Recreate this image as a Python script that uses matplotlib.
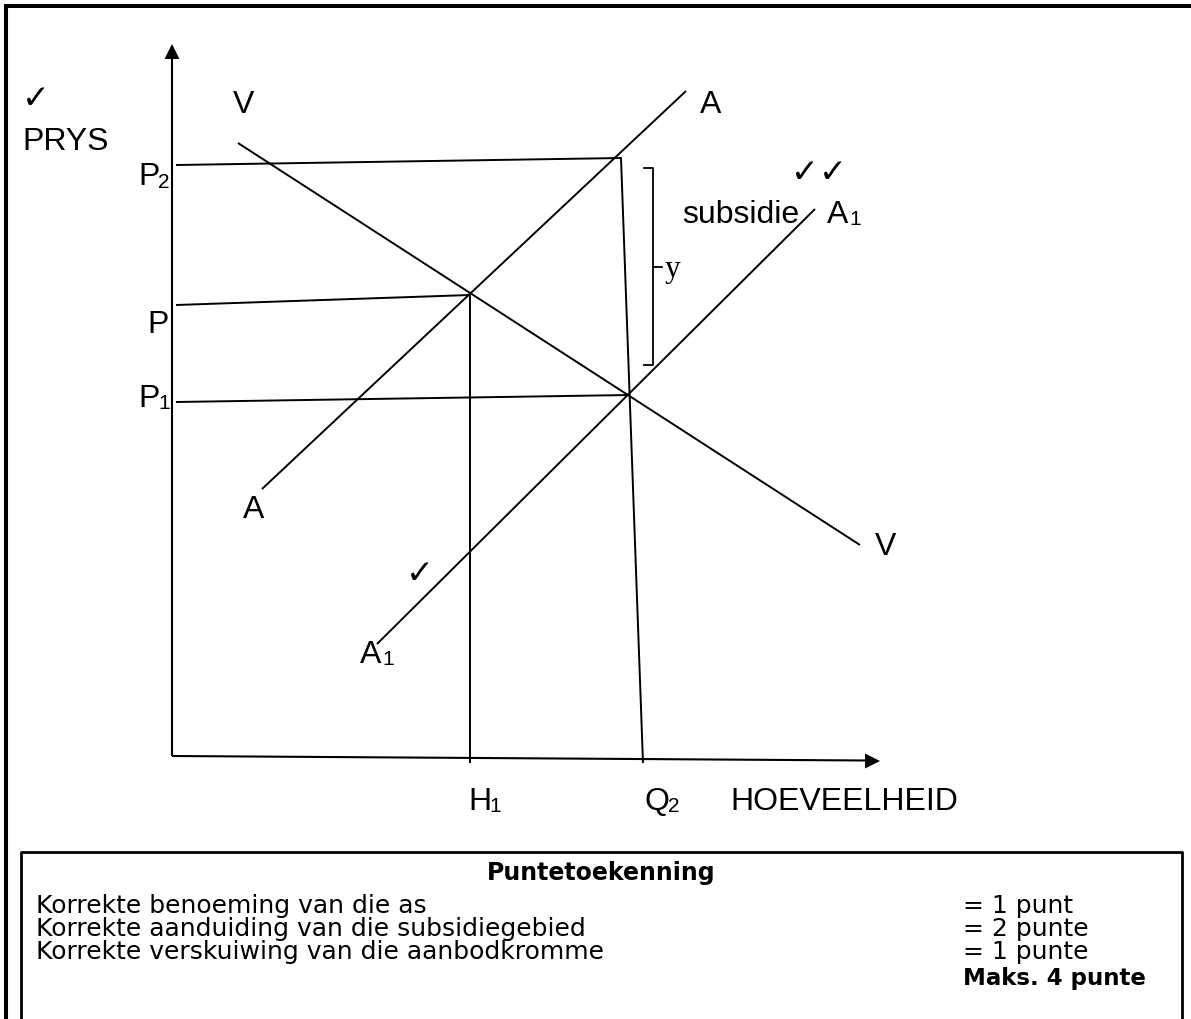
import matplotlib
matplotlib.use("Agg")
import matplotlib.pyplot as plt

# line segments of the diagram, in image pixels (x right, y down)
V_X, V_Y = [238, 860], [144, 546]          # demand V
A_X, A_Y = [262, 686], [490, 92]           # supply A
A1_X, A1_Y = [377, 815], [645, 210]        # supply A1 after subsidy
P2_X, P2_Y = [176, 622], [166, 159]
P_X, P_Y = [176, 470], [306, 296]
P1_X, P1_Y = [176, 630], [403, 396]
H1_X, H1_Y = [470, 470], [296, 764]
Q2_X, Q2_Y = [621, 643], [159, 764]
YAX_X, YAX_Y = [172, 172], [757, 58]
XAX_X, XAX_Y = [172, 867], [757, 761.5]
BRACKET_X = [644, 653, 653, 644]
BRACKET_Y = [169, 169, 366, 366]
BTICK_X, BTICK_Y = [653, 662], [267.5, 267.5]

# main labels: text, x (left), baseline y
LBL_TEXT = ["PRYS", "V", "A", "P", "P", "P", "subsidie", "A", "A", "V", "A", "H", "Q",
            "HOEVEELHEID"]
LBL_X = [22, 233, 700, 147, 138, 138, 682, 827, 243, 875, 360, 468, 645, 730]
LBL_Y = [150, 113, 113, 333, 185, 407, 223, 223, 518, 555, 663, 810, 810, 810]

# subscripts
SUB_TEXT = ["2", "1", "1", "1", "1", "2"]
SUB_X = [158, 158, 849, 382, 489, 668]
SUB_Y = [188, 409, 225, 665, 812, 812]

# check marks
CHK_TEXT = ["\u2713", "\u2713\u2713", "\u2713"]
CHK_X = [22, 791, 406]
CHK_Y = [108, 182, 583]

# marking box
BOX_TITLE = "Puntetoekenning"
BOX_ROWS = ["Korrekte benoeming van die as",
            "Korrekte aanduiding van die subsidiegebied",
            "Korrekte verskuiwing van die aanbodkromme"]
BOX_PTS = ["= 1 punt", "= 2 punte", "= 1 punte"]
BOX_MAX = "Maks. 4 punte"

W, H = 1191, 1020
fig = plt.figure(figsize=(W / 100, H / 100), dpi=100)
ax = fig.add_axes([0, 0, 1, 1])
ax.set_xlim(0, W)
ax.set_ylim(H, 0)
ax.axis("off")

k = dict(color="black", solid_capstyle="butt")

# page borders
ax.plot([6, 6], [H, 5], lw=2.9, **k)
ax.plot([4.5, W], [7, 7], lw=2.9, **k)
ax.plot([21, 21, 1182, 1182], [H, 853, 853, H], lw=2.0, **k)

# axes with arrowheads
ax.plot(YAX_X, YAX_Y, lw=1.5, **k)
ax.plot(XAX_X, XAX_Y, lw=1.5, **k)
ax.fill([164.5, 179.5, 172], [60, 60, 45], color="black", lw=0)
ax.fill([865, 865, 880], [754.5, 769.5, 762], color="black", lw=0)

# curves and guide lines
for xs, ys in [(V_X, V_Y), (A_X, A_Y), (A1_X, A1_Y), (P2_X, P2_Y), (P_X, P_Y),
               (P1_X, P1_Y), (H1_X, H1_Y), (Q2_X, Q2_Y)]:
    ax.plot(xs, ys, lw=1.4, **k)

# subsidy bracket
ax.plot(BRACKET_X, BRACKET_Y, lw=1.3, color="black")
ax.plot(BTICK_X, BTICK_Y, lw=1.3, color="black")
ax.text(665, 277, "y", family="Liberation Serif", fontsize=22.5, va="baseline", ha="left")

for t, x, y in zip(LBL_TEXT, LBL_X, LBL_Y):
    ax.text(x, y, t, family="Liberation Sans", fontsize=23, va="baseline", ha="left")
for t, x, y in zip(SUB_TEXT, SUB_X, SUB_Y):
    ax.text(x, y, t, family="Liberation Sans", fontsize=15, va="baseline", ha="left")
for t, x, y in zip(CHK_TEXT, CHK_X, CHK_Y):
    ax.text(x, y, t, family="DejaVu Sans", fontsize=24, va="baseline", ha="left")

# marking box text (multi-line blocks anchor on the baseline of their last line)
ax.text(601, 880, BOX_TITLE, family="DejaVu Sans", fontsize=17, weight="bold",
        ha="center", va="baseline")
ax.text(36, 959, "\n".join(BOX_ROWS), family="DejaVu Sans", fontsize=18,
        ha="left", va="baseline", linespacing=0.95)
ax.text(963, 959, "\n".join(BOX_PTS), family="DejaVu Sans", fontsize=18,
        ha="left", va="baseline", linespacing=0.95)
ax.text(963, 985, BOX_MAX, family="DejaVu Sans", fontsize=16.5, weight="bold",
        ha="left", va="baseline")

fig.savefig("out.png", dpi=100)
